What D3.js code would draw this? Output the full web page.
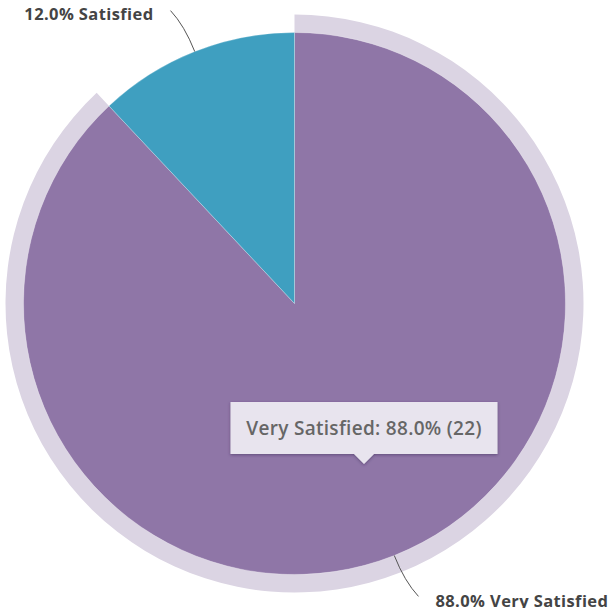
<!DOCTYPE html>
<html>
<head>
<meta charset="utf-8">
<script src="https://cdn.jsdelivr.net/npm/d3@7"></script>
<style>
  html, body { margin: 0; padding: 0; background: #fff; }
  svg { display: block; font-family: "Open Sans", Lato, sans-serif; }
</style>
</head>
<body>
<svg id="chart" width="612" height="608"></svg>
<script>
var categories = ["Very Satisfied", "Satisfied"];
var counts = [22, 3];
var colors = ["#8f76a7", "#3f9fc0"];
var hovered = "Very Satisfied";

var width = 612, height = 608,
  cx = 294.5, cy = 303.5,
  radius = 271,
  haloWidth = 18,
  hoverPoint = [364, 464];

var total = d3.sum(counts);
var data = categories.map((c, i) => ({ name: c, value: counts[i], color: colors[i] }));

var pie = d3.pie()
  .sort(null)
  .value(d => d.value);

var arc = d3.arc().innerRadius(0).outerRadius(radius);
var halo = d3.arc().innerRadius(radius).outerRadius(radius + haloWidth);

var svg = d3.select("#chart");
var g = svg.append("g").attr("transform", "translate(" + cx + "," + cy + ")");

var arcs = pie(data);

g.selectAll("path.halo")
  .data(arcs.filter(d => d.data.name == hovered))
  .enter().append("path")
    .attr("class", "halo")
    .attr("d", halo)
    .attr("fill", "#dbd4e3");

g.selectAll("path.slice")
  .data(arcs)
  .enter().append("path")
    .attr("class", "slice")
    .attr("d", arc)
    .attr("fill", d => d.data.color)
    .attr("stroke", "#ffffff")
    .attr("stroke-opacity", 0.4)
    .attr("stroke-width", 0.6);

var fmt = d3.format(".1%");

// connector lines and labels
function pt(angle, r) {
  return [Math.sin(angle) * r, -Math.cos(angle) * r];
}

arcs.forEach((d) => {
  var mid = (d.startAngle + d.endAngle) / 2;
  var side = Math.sin(mid) > 0 ? 1 : -1;
  var p0 = pt(mid, radius);
  var p1 = pt(mid, radius + 28);
  var p2 = pt(mid, radius + 44);
  var end = [p2[0] + 8 * side, p2[1]];
  g.append("path")
    .attr("d", "M" + p0 + "Q" + p1 + " " + end)
    .attr("fill", "none")
    .attr("stroke", "#555")
    .attr("stroke-width", 1);
  g.append("text")
    .attr("x", end[0] + 17 * side)
    .attr("y", end[1] + (side > 0 ? 11 : 9))
    .attr("text-anchor", side > 0 ? "start" : "end")
    .attr("font-size", 16.5)
    .attr("font-weight", 700)
    .attr("letter-spacing", 0.4)
    .attr("fill", "#444")
    .text(fmt(d.value / total) + " " + d.data.name);
});

// tooltip
var hov = data.find(d => d.name == hovered);
var tipText = hov.name + ": " + fmt(hov.value / total) + " (" + hov.value + ")";
var tip = svg.append("g").attr("transform", "translate(" + hoverPoint[0] + "," + hoverPoint[1] + ")");
var defs = svg.append("defs");
var f = defs.append("filter").attr("id", "shadow").attr("x", "-20%").attr("y", "-40%").attr("width", "140%").attr("height", "180%");
f.append("feDropShadow").attr("dx", 0).attr("dy", 1).attr("stdDeviation", 1.6).attr("flood-color", "#3b2a55").attr("flood-opacity", 0.55);

var tw = 267, th = 52, ah = 10, aw = 10;
tip.append("path")
  .attr("d", "M" + (-tw / 2) + "," + (-ah - th) +
    "H" + (tw / 2) + "V" + (-ah) + "H" + aw + "L0,0L" + (-aw) + "," + (-ah) +
    "H" + (-tw / 2) + "Z")
  .attr("fill", "#e8e4ee")
  .attr("filter", "url(#shadow)");
tip.append("text")
  .attr("x", 0)
  .attr("y", -ah - th / 2 + 6.5)
  .attr("text-anchor", "middle")
  .attr("font-size", 19)
  .attr("font-weight", 600)
  .attr("letter-spacing", 0.3)
  .attr("fill", "#666")
  .text(tipText);
</script>
</body>
</html>
